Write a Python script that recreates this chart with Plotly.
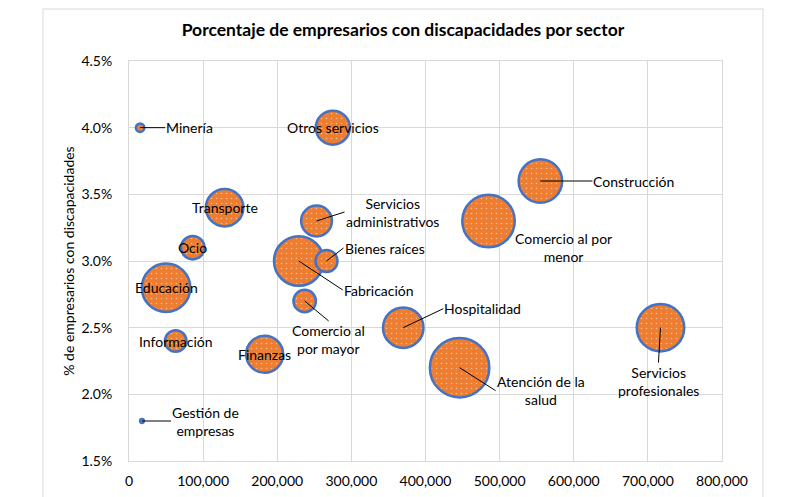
import numpy as np
import plotly.graph_objects as go

# ---------------- data ----------------
sectores = ["Minería", "Otros servicios", "Transporte", "Servicios administrativos",
            "Bienes raíces", "Fabricación", "Ocio", "Educación", "Comercio al por mayor",
            "Información", "Finanzas", "Gestión de empresas", "Hospitalidad",
            "Atención de la salud", "Comercio al por menor", "Construcción",
            "Servicios profesionales"]
empresarios = [15000, 275000, 129000, 253000, 266500, 229000, 86000, 50000, 237000,
               63000, 183000, 17500, 370000, 446000, 485000, 555000, 717000]
pct_discap = [4.0, 4.0, 3.4, 3.3, 3.0, 3.0, 3.1, 2.8, 2.7,
              2.4, 2.3, 1.8, 2.5, 2.2, 3.3, 3.6, 2.5]
tamano = [2.0, 32.7, 39.7, 26.8, 13.7, 69.2, 15.6, 66.4, 14.3,
          13.1, 38.7, 0.4, 46.3, 100.0, 77.9, 53.5, 63.7]
etiquetas = ["Minería", "Otros servicios", "Transporte", "Servicios<br>administrativos",
             "Bienes raíces", "Fabricación", "Ocio", "Educación", "Comercio al<br>por mayor",
             "Información", "Finanzas", "Gestión de<br>empresas", "Hospitalidad",
             "Atención de la<br>salud", "Comercio al por<br>menor", "Construcción",
             "Servicios<br>profesionales"]
x_ticks = [0, 100000, 200000, 300000, 400000, 500000, 600000, 700000, 800000]
y_ticks = [1.5, 2.0, 2.5, 3.0, 3.5, 4.0, 4.5]

# ---------------- layout constants ----------------
W, H = 795, 497
ML, MR, MT, MB = 129, 73, 61, 36
PW, PH = W - ML - MR, H - MT - MB
XR = [0, 800000]
YR = [1.5, 4.5]
FONT = "Lato"
ORANGE = "#ED7D31"
BLUE = "#4472C4"
GRID = "#D9D9D9"
LW = 2.5
MAX_DIAM = 59.5
sizeref = 2.0 * max(tamano) / MAX_DIAM ** 2

# label placement relative to bubble centre (pixels):
# (mode, dx, dy, xanchor, yanchor); mode 'a' = leader line, 'c' = no line
label_pos = {
    "Minería": ("a", 25, 0, "left", "middle"),
    "Otros servicios": ("c", 0, 0, "center", "middle"),
    "Transporte": ("c", 0, 0, "center", "middle"),
    "Servicios administrativos": ("a", 28, -9, "left", "middle"),
    "Bienes raíces": ("a", 17, -13, "left", "middle"),
    "Fabricación": ("a", 44, 29, "left", "middle"),
    "Ocio": ("c", 0, 0, "center", "middle"),
    "Educación": ("c", 0, 0, "center", "middle"),
    "Comercio al por mayor": ("a", 24, 20, "center", "top"),
    "Información": ("c", 0, 0, "center", "middle"),
    "Finanzas": ("c", 0, 0, "center", "middle"),
    "Gestión de empresas": ("a", 29, 0, "left", "middle"),
    "Hospitalidad": ("a", 40, -19, "left", "middle"),
    "Atención de la salud": ("a", 36, 23, "left", "middle"),
    "Comercio al por menor": ("c", 75, 26, "center", "middle"),
    "Construcción": ("a", 52, 0, "left", "middle"),
    "Servicios profesionales": ("a", -2, 35, "center", "top"),
}

fig = go.Figure()

px_x = PW / (XR[1] - XR[0])
px_y = PH / (YR[1] - YR[0])
theta = np.linspace(0, 2 * np.pi, 73)

order = np.argsort(tamano)[::-1]
for i in order:
    fig.add_trace(go.Scatter(
        x=[empresarios[i]], y=[pct_discap[i]], mode="markers",
        marker=dict(size=[tamano[i]], sizemode="area", sizeref=sizeref,
                    color=ORANGE, line=dict(color=BLUE, width=LW), opacity=1),
        name=sectores[i], showlegend=False, hoverinfo="text",
        text=[sectores[i]]))
    r_px = np.sqrt(tamano[i] / (2 * sizeref)) - LW / 2 - 0.4
    if r_px > 2:
        cx = empresarios[i] + r_px * np.cos(theta) / px_x
        cy = pct_discap[i] + r_px * np.sin(theta) / px_y
        fig.add_trace(go.Scatter(
            x=cx, y=cy, mode="lines", fill="toself",
            line=dict(width=0, color="rgba(0,0,0,0)"),
            fillcolor="rgba(0,0,0,0)",
            fillpattern=dict(shape=".", fgcolor="white", fillmode="overlay",
                             size=5, solidity=0.08),
            showlegend=False, hoverinfo="skip"))

annotations = []
for i, s in enumerate(sectores):
    mode, dx, dy, xa, ya = label_pos[s]
    base = dict(x=empresarios[i], y=pct_discap[i], xref="x", yref="y",
                text=etiquetas[i], align="center", xanchor=xa, yanchor=ya,
                font=dict(family=FONT, size=14, color="#000000"))
    if mode == "a":
        base.update(showarrow=True, ax=dx, ay=dy, arrowhead=0, arrowwidth=1,
                    arrowcolor="#000000", standoff=0, borderpad=0)
    else:
        base.update(showarrow=False, xshift=dx, yshift=-dy)
    annotations.append(base)

fig.update_layout(
    width=W, height=H,
    margin=dict(l=ML, r=MR, t=MT, b=MB, autoexpand=False),
    paper_bgcolor="white", plot_bgcolor="white",
    font=dict(family=FONT, size=14, color="#000000"),
    title=dict(text="<b>Porcentaje de empresarios con discapacidades por sector</b>",
               x=403 / W, xref="container", xanchor="center",
               y=1 - 30 / H, yref="container", yanchor="middle",
               font=dict(family=FONT, size=17.5, color="#000000")),
    xaxis=dict(range=XR, tickvals=x_ticks, ticktext=[f"{v:,}" for v in x_ticks],
               showgrid=True, gridcolor=GRID, gridwidth=1,
               showline=True, linecolor=GRID, linewidth=1, mirror=True,
               zeroline=False, ticks="", ticklabelstandoff=7,
               tickfont=dict(family=FONT, size=14, color="#000000"),
               automargin=False),
    yaxis=dict(range=YR, tickvals=y_ticks, ticktext=[f"{v:.1f}%" for v in y_ticks],
               showgrid=True, gridcolor=GRID, gridwidth=1,
               showline=True, linecolor=GRID, linewidth=1, mirror=True,
               zeroline=False, ticks="", ticklabelstandoff=13,
               tickfont=dict(family=FONT, size=14, color="#000000"),
               title=dict(text="% de empresarios con discapacidades",
                          font=dict(family=FONT, size=14, color="#000000"),
                          standoff=3),
               automargin=False),
    annotations=annotations,
    shapes=[dict(type="rect", xref="paper", yref="paper",
                 x0=(43 - ML) / PW, x1=(763 - ML) / PW,
                 y0=-(MB + 10) / PH, y1=(H - MB - 9) / PH,
                 line=dict(color=GRID, width=1), fillcolor="rgba(0,0,0,0)",
                 layer="below")],
)

fig.write_html("out.html", config={"displayModeBar": False},
               post_script="document.body.style.margin='0';document.body.style.overflow='hidden';")
